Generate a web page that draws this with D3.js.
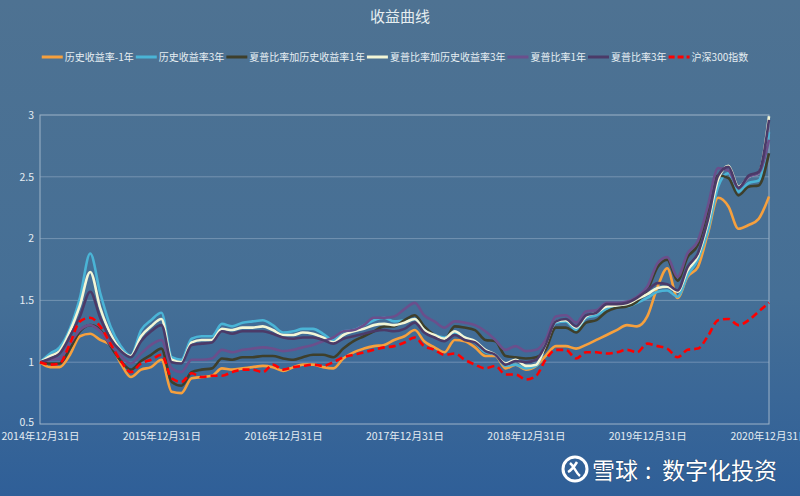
<!DOCTYPE html>
<html>
<head>
<meta charset="utf-8">
<script src="https://cdn.jsdelivr.net/npm/d3@7"></script>
<style>
  html, body { margin: 0; padding: 0; }
  body { width: 800px; height: 496px; overflow: hidden; }
  text { font-family: "Noto Sans CJK SC", "Noto Sans", sans-serif; }
</style>
</head>
<body>
<svg id="chart" width="800" height="496"></svg>
<script>
// month-end dates, 2014-12-31 .. 2020-12-31
const startYear = 2015
const monthCount = 73
const tickLabels = ['2014年12月31日', '2015年12月31日', '2016年12月31日', '2017年12月31日', '2018年12月31日', '2019年12月31日', '2020年12月31日']
const yTicks = [0.5, 1, 1.5, 2, 2.5, 3]

const seriesNames = ['历史收益率-1年', '历史收益率3年', '夏普比率加历史收益率1年', '夏普比率加历史收益率3年', '夏普比率1年', '夏普比率3年', '沪深300指数']
const seriesColors = ['#f6a03d', '#4ab4d6', '#3e3f2b', '#f3f6d6', '#6b4f8c', '#4b3a68', '#ff0000']

const hs1 = [1.00, 0.96, 0.96, 1.06, 1.21, 1.23, 1.18, 1.14, 0.99, 0.88, 0.94, 0.96, 1.02,
  0.76, 0.75, 0.87, 0.88, 0.89, 0.95, 0.94, 0.95, 0.96, 0.97, 0.96, 0.93,
  0.96, 0.98, 0.98, 0.96, 0.95, 1.03, 1.08, 1.11, 1.13, 1.14, 1.18, 1.21,
  1.26, 1.17, 1.12, 1.08, 1.18, 1.17, 1.12, 1.05, 1.05, 0.95, 0.98, 0.94,
  0.97, 1.05, 1.13, 1.13, 1.11, 1.14, 1.18, 1.22, 1.26, 1.30, 1.29, 1.37,
  1.61, 1.76, 1.52, 1.69, 1.77, 2.04, 2.33, 2.26, 2.08, 2.11, 2.16, 2.34]
const hs3 = [1.00, 1.07, 1.12, 1.27, 1.52, 1.88, 1.56, 1.29, 1.13, 1.05, 1.26, 1.34, 1.40,
  1.04, 1.02, 1.19, 1.21, 1.21, 1.31, 1.29, 1.32, 1.33, 1.34, 1.30, 1.24,
  1.25, 1.27, 1.27, 1.23, 1.18, 1.25, 1.26, 1.30, 1.34, 1.36, 1.33, 1.34,
  1.35, 1.27, 1.22, 1.20, 1.24, 1.20, 1.16, 1.08, 1.06, 0.97, 0.98, 0.95,
  0.97, 1.13, 1.32, 1.33, 1.26, 1.36, 1.38, 1.43, 1.45, 1.45, 1.48, 1.52,
  1.57, 1.58, 1.53, 1.70, 1.83, 2.06, 2.42, 2.53, 2.38, 2.45, 2.47, 2.86]
const shs1 = [1.00, 0.99, 0.99, 1.11, 1.25, 1.30, 1.26, 1.13, 1.01, 0.94, 1.01, 1.06, 1.11,
  0.84, 0.81, 0.92, 0.94, 0.95, 1.03, 1.02, 1.04, 1.04, 1.05, 1.05, 1.03,
  1.02, 1.04, 1.06, 1.06, 1.04, 1.11, 1.17, 1.21, 1.25, 1.29, 1.29, 1.34,
  1.38, 1.29, 1.22, 1.18, 1.29, 1.28, 1.26, 1.18, 1.17, 1.05, 1.04, 1.03,
  1.04, 1.10, 1.28, 1.28, 1.24, 1.32, 1.34, 1.41, 1.44, 1.45, 1.49, 1.58,
  1.77, 1.83, 1.66, 1.85, 1.95, 2.23, 2.51, 2.49, 2.35, 2.42, 2.43, 2.69]
const shs3 = [1.00, 1.05, 1.09, 1.25, 1.46, 1.73, 1.44, 1.23, 1.10, 1.05, 1.21, 1.29, 1.35,
  1.02, 1.00, 1.16, 1.18, 1.18, 1.27, 1.26, 1.28, 1.28, 1.29, 1.26, 1.22,
  1.22, 1.24, 1.23, 1.20, 1.16, 1.22, 1.25, 1.27, 1.30, 1.31, 1.30, 1.32,
  1.35, 1.26, 1.22, 1.19, 1.25, 1.20, 1.17, 1.10, 1.06, 0.99, 1.02, 0.97,
  0.98, 1.14, 1.33, 1.34, 1.28, 1.37, 1.40, 1.45, 1.46, 1.47, 1.51, 1.55,
  1.60, 1.61, 1.57, 1.74, 1.86, 2.12, 2.48, 2.59, 2.42, 2.50, 2.53, 2.99]
const sr1 = [1.00, 1.02, 1.03, 1.15, 1.26, 1.30, 1.25, 1.14, 1.05, 0.99, 1.07, 1.14, 1.18,
  0.95, 0.92, 1.02, 1.02, 1.03, 1.10, 1.08, 1.10, 1.11, 1.12, 1.11, 1.09,
  1.10, 1.12, 1.14, 1.17, 1.20, 1.25, 1.26, 1.30, 1.36, 1.36, 1.37, 1.43,
  1.48, 1.38, 1.33, 1.28, 1.33, 1.32, 1.30, 1.25, 1.18, 1.10, 1.13, 1.09,
  1.10, 1.18, 1.37, 1.38, 1.32, 1.41, 1.42, 1.48, 1.48, 1.49, 1.53, 1.61,
  1.80, 1.85, 1.69, 1.88, 1.98, 2.26, 2.57, 2.55, 2.41, 2.50, 2.53, 2.80]
const sr3 = [1.00, 1.03, 1.07, 1.21, 1.37, 1.57, 1.36, 1.19, 1.09, 1.04, 1.17, 1.25, 1.30,
  1.00, 0.99, 1.14, 1.15, 1.16, 1.25, 1.23, 1.25, 1.25, 1.25, 1.23, 1.20,
  1.19, 1.20, 1.20, 1.18, 1.15, 1.19, 1.21, 1.23, 1.25, 1.26, 1.25, 1.27,
  1.32, 1.24, 1.20, 1.17, 1.22, 1.18, 1.16, 1.09, 1.06, 0.98, 1.01, 1.00,
  1.02, 1.14, 1.33, 1.35, 1.29, 1.38, 1.40, 1.47, 1.47, 1.48, 1.52, 1.58,
  1.64, 1.63, 1.58, 1.77, 1.88, 2.15, 2.51, 2.58, 2.41, 2.51, 2.54, 2.96]
const csi300 = [1.00, 0.98, 0.99, 1.15, 1.33, 1.36, 1.29, 1.15, 1.01, 0.92, 0.99, 1.02, 1.06,
  0.87, 0.84, 0.91, 0.88, 0.89, 0.89, 0.92, 0.94, 0.94, 0.92, 0.98, 0.94,
  0.96, 0.97, 0.98, 0.97, 1.00, 1.04, 1.06, 1.08, 1.10, 1.12, 1.13, 1.16,
  1.20, 1.13, 1.10, 1.06, 1.07, 1.02, 0.98, 0.95, 0.97, 0.90, 0.90, 0.86,
  0.89, 1.02, 1.10, 1.10, 1.03, 1.08, 1.08, 1.07, 1.08, 1.10, 1.08, 1.15,
  1.13, 1.11, 1.04, 1.10, 1.11, 1.21, 1.34, 1.35, 1.30, 1.34, 1.41, 1.48]

const allSeries = [hs1, hs3, shs1, shs3, sr1, sr3, csi300]

const dates = d3.range(monthCount).map(m => new Date(Date.UTC(startYear, m, 0)))
const tickDates = tickLabels.map((t, i) => new Date(Date.UTC(2014 + i, 11, 31)))

const W = 800, H = 496
const margin = {left: 40, right: 31, top: 115, bottom: 72}
const svg = d3.select('#chart')

// background gradient
const defs = svg.append('defs')
const grad = defs.append('linearGradient').attr('id', 'bg').attr('x1', 0).attr('y1', 0).attr('x2', 0).attr('y2', 1)
grad.append('stop').attr('offset', '0%').attr('stop-color', '#4e7292')
grad.append('stop').attr('offset', '60%').attr('stop-color', '#456f96')
grad.append('stop').attr('offset', '100%').attr('stop-color', '#2f5f98')
svg.append('rect').attr('width', W).attr('height', H).attr('fill', 'url(#bg)')

const x = d3.scaleUtc().domain([tickDates[0], tickDates[6]]).range([margin.left, W - margin.right])
const y = d3.scaleLinear().domain([0.5, 3]).range([H - margin.bottom, margin.top])

// title
svg.append('text').attr('x', 400).attr('y', 22).attr('text-anchor', 'middle')
  .attr('font-size', 15).attr('fill', '#e6eef0').text('收益曲线')

// grid lines
svg.append('g').selectAll('line').data(yTicks.slice(1, 5)).enter().append('line')
  .attr('x1', margin.left).attr('x2', W - margin.right)
  .attr('y1', d => y(d)).attr('y2', d => y(d))
  .attr('stroke', 'rgba(200,215,230,0.35)').attr('stroke-width', 1)

// frame
svg.append('rect').attr('x', margin.left).attr('y', y(3))
  .attr('width', W - margin.right - margin.left).attr('height', y(0.5) - y(3))
  .attr('fill', 'none').attr('stroke', '#9db3c8').attr('stroke-width', 1)

// axes
const yAxis = d3.axisLeft(y).tickValues(yTicks).tickSize(0).tickPadding(6).tickFormat(d3.format('~g'))
const gy = svg.append('g').attr('transform', `translate(${margin.left},0)`).call(yAxis)
gy.select('.domain').remove()
gy.selectAll('text').attr('fill', '#e4ecf2').attr('font-size', 10.5)
// keep the bottom label clear of the date labels
gy.selectAll('.tick').filter(d => d === 0.5).select('text').attr('dy', '0.1em')

const xAxis = d3.axisBottom(x).tickValues(tickDates).tickSize(0).tickPadding(9)
  .tickFormat((d, i) => tickLabels[i])
const gx = svg.append('g').attr('transform', `translate(0,${H - margin.bottom})`).call(xAxis)
gx.select('.domain').remove()
gx.selectAll('text').attr('fill', '#e4ecf2').attr('font-size', 10.5)

// lines
const line = d3.line().x((d, i) => x(dates[i])).y(d => y(d)).curve(d3.curveMonotoneX)
svg.append('g').selectAll('path').data(allSeries).enter().append('path')
  .attr('d', line)
  .attr('fill', 'none')
  .attr('stroke', (d, i) => seriesColors[i])
  .attr('stroke-width', 2.6)
  .attr('stroke-linejoin', 'round')
  .attr('stroke-dasharray', (d, i) => i === 6 ? '7,4' : null)

// legend
const legend = svg.append('g')
let lx = 0
const items = legend.selectAll('g').data(seriesNames).enter().append('g')
items.each(function(name, i) {
  const g = d3.select(this)
  g.append('line').attr('x1', 0).attr('x2', 21).attr('y1', 0).attr('y2', 0)
    .attr('stroke', seriesColors[i]).attr('stroke-width', 3)
    .attr('stroke-dasharray', i === 6 ? '6,3' : null)
  const t = g.append('text').attr('x', 23).attr('y', 4).attr('font-size', 10)
    .attr('fill', '#e6eef2').text(name)
  g.attr('transform', `translate(${lx},0)`)
  lx += 23 + t.node().getComputedTextLength() + 2
})
legend.attr('transform', `translate(${396 - lx / 2},57)`)

// watermark
const wm = svg.append('g').attr('transform', 'translate(575,469)')
wm.append('circle').attr('r', 12).attr('fill', 'none').attr('stroke', '#fff').attr('stroke-width', 3)
wm.append('path').attr('d', 'M-5,-6 C0,-2 0,3 5,7 M-7,3 C-3,1 -1,-2 2,-7')
  .attr('fill', 'none').attr('stroke', '#fff').attr('stroke-width', 2.5)
const wt = svg.append('text').attr('y', 479).attr('font-size', 23)
  .attr('fill', '#fff').attr('style', 'paint-order:stroke').attr('stroke', 'rgba(0,0,0,0.25)').attr('stroke-width', 1)
wt.append('tspan').attr('x', 592).text('雪球')
wt.append('tspan').attr('x', 645).text(':')
wt.append('tspan').attr('x', 662).text('数字化投资')
</script>
</body>
</html>
